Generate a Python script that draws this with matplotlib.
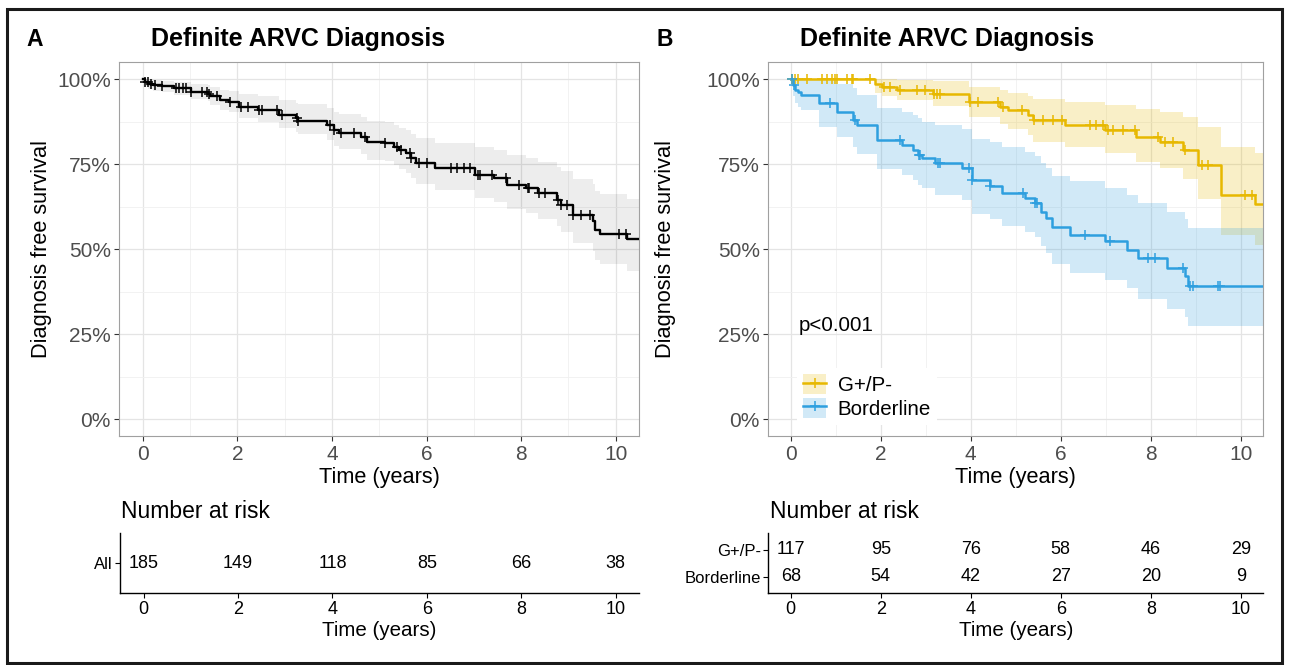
import numpy as np
import matplotlib
matplotlib.use("Agg")
import matplotlib.pyplot as plt
from matplotlib.lines import Line2D
from matplotlib.patches import Patch, Rectangle

plt.rcParams['font.family'] = ['Liberation Sans', 'DejaVu Sans']

# ---- data ----
# Panel A: all patients
a_time = [0, 0.04, 0.11, 0.22, 0.40, 0.65, 1.02, 1.38, 1.42, 1.64, 1.82, 2.04, 2.44, 2.87,
          3.24, 3.27, 3.89, 4.04, 4.15, 4.62, 4.73, 5.13, 5.31, 5.42, 5.56, 5.67, 5.78,
          6.18, 7.02, 7.42, 7.71, 8.11, 8.36, 8.76, 8.84, 9.09, 9.53, 9.56, 9.67, 10.25, 10.6]
a_surv = [100, 99.2, 98.7, 98.2, 97.9, 97.3, 96.3, 95.8, 95.0, 93.8, 93.4, 91.9, 90.9, 89.5,
          88.5, 87.8, 86.5, 85.1, 84.3, 83.1, 81.6, 81.2, 80.2, 79.2, 78.2, 76.8, 75.3,
          73.8, 71.9, 70.9, 68.9, 68.0, 66.5, 64.6, 63.1, 60.2, 58.2, 55.8, 54.6, 53.0, 53.0]
a_upper = [100, 100, 100, 99.8, 99.6, 99.2, 98.7, 98.3, 97.8, 97.0, 96.7, 95.7, 95.0, 93.9,
           93.1, 92.6, 91.6, 90.5, 89.9, 88.9, 87.7, 87.4, 86.6, 85.8, 85.0, 83.8, 82.6,
           81.4, 80.0, 79.2, 77.6, 76.9, 75.7, 74.2, 73.0, 70.7, 69.1, 67.1, 66.2, 64.8, 64.8]
a_lower = [100, 98.0, 97.2, 96.6, 96.2, 95.4, 94.2, 93.5, 92.5, 91.0, 90.5, 88.7, 87.5, 85.8,
           84.6, 83.8, 82.2, 80.5, 79.6, 78.1, 76.4, 75.9, 74.8, 73.6, 72.5, 70.9, 69.2,
           67.5, 65.2, 64.0, 61.8, 60.8, 59.0, 56.8, 55.1, 51.8, 49.6, 46.9, 45.6, 43.5, 43.5]
a_censor = [0.04, 0.1, 0.18, 0.25, 0.4, 0.69, 0.76, 0.84, 0.91, 1.02, 1.24, 1.35, 1.39, 1.56,
            1.84, 2.07, 2.22, 2.46, 2.51, 2.84, 2.95, 3.25, 3.28, 3.96, 4.05, 4.18, 4.47, 4.69,
            5.13, 5.38, 5.45, 5.64, 5.68, 5.85, 6.0, 6.51, 6.65, 6.8, 6.91, 7.09, 7.13, 7.38,
            7.67, 7.96, 8.15, 8.16, 8.37, 8.51, 8.77, 8.85, 8.98, 9.1, 9.27, 9.45, 10.07, 10.22]

# Panel B: G+/P- group
g_time = [0, 1.87, 2.02, 2.35, 3.17, 3.95, 4.65, 4.83, 5.28, 5.39, 6.09, 6.98, 7.68, 8.20,
          8.72, 9.05, 9.57, 10.31, 10.6]
g_surv = [100, 98.7, 97.8, 96.8, 95.8, 93.4, 92.0, 90.9, 89.5, 88.0, 86.5, 85.1, 83.1, 81.6,
          79.2, 74.8, 66.0, 63.4, 63.4]
g_upper = [100, 100, 100, 99.8, 99.5, 97.6, 96.8, 96.1, 95.2, 94.3, 93.3, 92.5, 91.2, 90.3,
           88.8, 86.0, 80.2, 78.4, 78.4]
g_lower = [100, 96.0, 95.0, 93.8, 92.2, 88.8, 86.9, 85.4, 83.6, 81.7, 80.0, 78.2, 75.6, 73.8,
           70.6, 64.9, 54.3, 51.3, 51.3]
g_censor = [0.02, 0.1, 0.17, 0.35, 0.69, 0.8, 0.91, 0.99, 1.02, 1.24, 1.35, 1.39, 1.76, 2.06,
            2.21, 2.43, 2.8, 2.98, 3.18, 3.24, 3.32, 3.98, 4.17, 4.61, 4.72, 5.13, 5.4, 5.61,
            5.83, 6.02, 6.65, 6.79, 6.94, 7.05, 7.16, 7.38, 7.65, 8.16, 8.31, 8.5, 8.76, 9.13,
            9.27, 10.09, 10.24]

# Panel B: Borderline group
b_time = [0, 0.04, 0.10, 0.15, 0.22, 0.62, 1.02, 1.39, 1.47, 1.91, 2.46, 2.72, 2.83, 2.91,
          3.21, 3.80, 4.02, 4.43, 4.69, 5.20, 5.43, 5.57, 5.68, 5.80, 6.20, 6.98, 7.46, 7.72,
          8.35, 8.76, 8.83, 10.6]
b_surv = [100, 98.3, 96.9, 96.2, 95.5, 92.9, 90.4, 88.0, 86.5, 82.1, 80.7, 79.2, 77.7, 76.8,
          75.5, 73.8, 70.4, 68.5, 66.7, 65.0, 63.6, 61.1, 59.2, 56.7, 54.3, 52.3, 49.9, 47.5,
          44.5, 42.1, 39.2, 39.2]
b_upper = [100, 100, 100, 100, 100, 99.8, 98.5, 97.3, 95.5, 91.5, 90.5, 89.5, 88.5, 87.5,
           86.5, 85.5, 82.5, 81.5, 80.0, 78.5, 77.3, 75.5, 74.0, 71.5, 70.0, 68.0, 66.0, 63.5,
           61.0, 59.0, 56.3, 56.3]
b_lower = [100, 95.0, 93.0, 92.0, 91.0, 86.0, 83.0, 80.0, 78.0, 73.5, 72.0, 70.5, 69.0, 68.0,
           66.0, 64.5, 60.5, 59.0, 57.0, 55.0, 53.5, 51.0, 49.0, 45.8, 43.0, 41.0, 38.5, 35.5,
           32.5, 30.0, 27.3, 27.3]
b_censor = [0.02, 0.06, 0.87, 1.43, 2.43, 2.84, 2.87, 3.28, 3.32, 3.95, 4.02, 4.43, 5.17,
            5.43, 5.46, 6.54, 7.09, 7.94, 8.09, 8.72, 8.87, 8.94, 9.5, 9.53]

risk_times = [0, 2, 4, 6, 8, 10]
risk_all = [185, 149, 118, 85, 66, 38]
risk_g = [117, 95, 76, 58, 46, 29]
risk_b = [68, 54, 42, 27, 20, 9]

GOLD = '#E7B800'
BLUE = '#2E9FDF'

W, H = 1289, 665
fig = plt.figure(figsize=(W / 100, H / 100), dpi=100)


def box(x0, y0, x1, y1):
    # pixel box (top-left origin) -> figure fraction rect
    return [x0 / W, 1 - y1 / H, (x1 - x0) / W, (y1 - y0) / H]


def ftext(x, y, s, **kw):
    fig.text(x / W, 1 - y / H, s, **kw)


def surv_at(times, surv, t):
    i = np.searchsorted(times, t, side='right') - 1
    return np.asarray(surv)[i]


def style_main(ax):
    ax.set_xlim(-0.5, 10.5)
    ax.set_ylim(-5, 105)
    ax.set_xticks(range(0, 11, 2))
    ax.set_xticks(range(1, 10, 2), minor=True)
    ax.set_yticks([0, 25, 50, 75, 100])
    ax.set_yticks([12.5, 37.5, 62.5, 87.5], minor=True)
    ax.set_yticklabels(['0%', '25%', '50%', '75%', '100%'])
    ax.grid(True, which='major', color='#E4E4E4', lw=0.9)
    ax.grid(True, which='minor', color='#F0F0F0', lw=0.6)
    ax.set_axisbelow(True)
    ax.tick_params(which='major', length=3.6, width=0.8, color='#333333',
                   labelsize=15, labelcolor='#4D4D4D', pad=2.5)
    ax.tick_params(which='minor', length=0)
    for sp in ax.spines.values():
        sp.set_color('#A0A0A0')
        sp.set_linewidth(0.8)


def km(ax, times, surv, up, lo, cens, color, band_alpha, lw=1.8):
    ax.fill_between(times, lo, up, step='post', color=color, alpha=band_alpha, lw=0)
    ax.plot(times, surv, drawstyle='steps-post', color=color, lw=lw, zorder=3)
    ax.plot(cens, surv_at(times, surv, cens), ls='none', marker='+', ms=7,
            mew=1.1, color=color, zorder=4)


def style_table(ax, labels, nrows):
    ax.set_xlim(-0.5, 10.5)
    ax.set_ylim(0.4, nrows + 0.6)
    ax.set_xticks(risk_times)
    ax.set_yticks(list(range(nrows, 0, -1)))
    ax.set_yticklabels(labels)
    for s in ['top', 'right']:
        ax.spines[s].set_visible(False)
    for s in ['left', 'bottom']:
        ax.spines[s].set_color('black')
        ax.spines[s].set_linewidth(1.0)
    ax.tick_params(axis='x', length=3.6, width=0.8, color='black', labelsize=13,
                   labelcolor='black', pad=2)
    ax.tick_params(axis='y', length=3.6, width=0.8, color='black', labelsize=12,
                   labelcolor='black', pad=1.5)
    ax.set_facecolor('none')


# ---- panel A ----
axA = fig.add_axes(box(119.3, 62.3, 639.3, 436.3))
km(axA, a_time, a_surv, a_upper, a_lower, a_censor, 'black', 0.07, lw=1.7)
style_main(axA)

# ---- panel B ----
axB = fig.add_axes(box(768.3, 62.3, 1263.3, 436.3))
km(axB, g_time, g_surv, g_upper, g_lower, g_censor, GOLD, 0.22)
km(axB, b_time, b_surv, b_upper, b_lower, b_censor, BLUE, 0.22)
style_main(axB)
axB.text(0.18, 27.7, 'p<0.001', fontsize=14.8, ha='left', va='center')

handles = [
    (Patch(facecolor=GOLD, alpha=0.22, lw=0),
     Line2D([], [], color=GOLD, lw=1.8, marker='+', ms=7, mew=1.1)),
    (Patch(facecolor=BLUE, alpha=0.22, lw=0),
     Line2D([], [], color=BLUE, lw=1.8, marker='+', ms=7, mew=1.1)),
]
leg = axB.legend(handles, ['G+/P-', 'Borderline'], loc='upper left',
                 bbox_to_anchor=(797 / W, 1 - 368 / H), bbox_transform=fig.transFigure,
                 fontsize=14.8, frameon=True, fancybox=False, borderpad=0.3,
                 borderaxespad=0, handlelength=1.13, handleheight=1.13,
                 handletextpad=0.55, labelspacing=0.12, numpoints=1)
leg.get_frame().set_facecolor('white')
leg.get_frame().set_edgecolor('none')
leg.get_frame().set_alpha(1)

# ---- risk tables ----
tA = fig.add_axes(box(120, 533.3, 639.3, 593.3))
style_table(tA, ['All'], 1)
for t, n in zip(risk_times, risk_all):
    tA.text(t, 1, str(n), ha='center', va='center', fontsize=13)

tB = fig.add_axes(box(768.3, 533.3, 1263.3, 593.3))
style_table(tB, ['G+/P-', 'Borderline'], 2)
for t, n in zip(risk_times, risk_g):
    tB.text(t, 2, str(n), ha='center', va='center', fontsize=13)
for t, n in zip(risk_times, risk_b):
    tB.text(t, 1, str(n), ha='center', va='center', fontsize=13)

# ---- labels and titles ----
ftext(35, 40, 'A', fontsize=16.5, fontweight='bold', ha='center', va='center')
ftext(665, 39, 'B', fontsize=16.5, fontweight='bold', ha='center', va='center')
ftext(151, 39, 'Definite ARVC Diagnosis', fontsize=18, fontweight='bold',
      ha='left', va='center')
ftext(800, 39, 'Definite ARVC Diagnosis', fontsize=18, fontweight='bold',
      ha='left', va='center')
ftext(41.7, 249.3, 'Diagnosis free survival', fontsize=15.7, rotation=90,
      ha='center', va='center')
ftext(665, 249.3, 'Diagnosis free survival', fontsize=15.7, rotation=90,
      ha='center', va='center')
ftext(379.3, 477, 'Time (years)', fontsize=15.7, ha='center', va='center')
ftext(1015.8, 477, 'Time (years)', fontsize=15.7, ha='center', va='center')
ftext(120.7, 511.7, 'Number at risk', fontsize=16.5, ha='left', va='center')
ftext(769.6, 511.7, 'Number at risk', fontsize=16.5, ha='left', va='center')
ftext(379.3, 630, 'Time (years)', fontsize=14.8, ha='center', va='center')
ftext(1015.8, 630, 'Time (years)', fontsize=14.8, ha='center', va='center')

# outer frame
fig.add_artist(Rectangle((6.5 / W, 1 - 662.5 / H), (1282 - 6.5) / W, (662.5 - 8.5) / H,
                         transform=fig.transFigure, fill=False, ec='#1A1A1A', lw=2.2))

fig.savefig('out.png', dpi=100)
